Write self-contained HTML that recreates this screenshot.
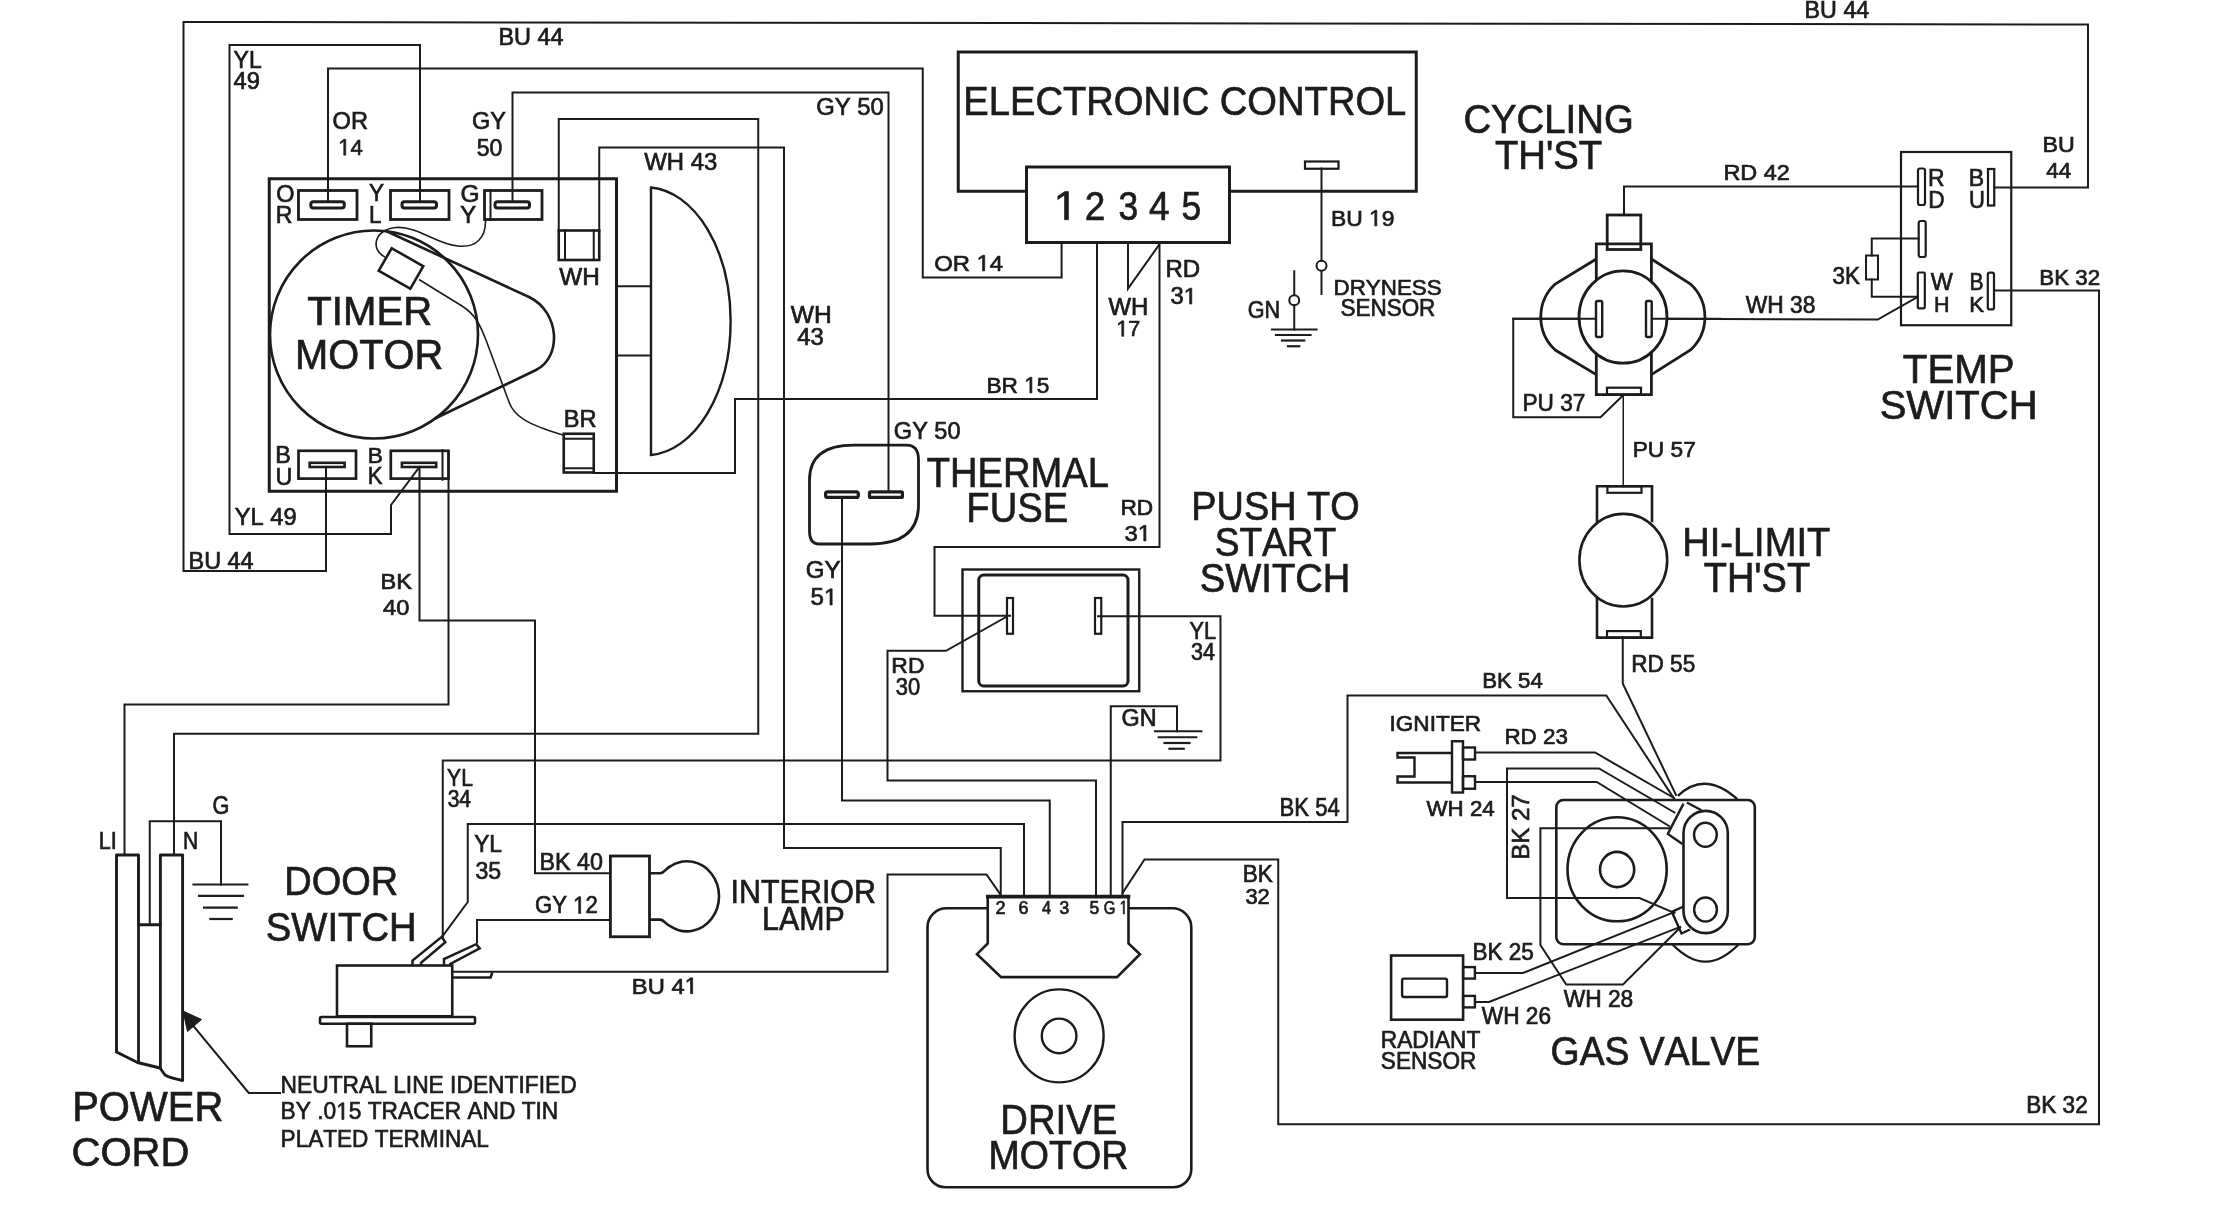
<!DOCTYPE html>
<html><head><meta charset="utf-8"><style>
html,body{margin:0;padding:0;background:#fff;}
svg{display:block;filter:grayscale(1);}
text{font-family:"Liberation Sans",sans-serif;fill:#1c1c1c;stroke:#1c1c1c;stroke-width:0.7px;font-kerning:none;}
.h{fill-opacity:0;stroke-opacity:0;}
.one{fill:#1c1c1c;stroke:#1c1c1c;}
</style></head><body>
<svg xmlns="http://www.w3.org/2000/svg" width="2236" height="1205" viewBox="0 0 2236 1205">
<rect x="0" y="0" width="2236" height="1205" fill="#fff"/>
<polyline points="326,468 326,571 183.5,571 183.5,22 2088,24.5 2088,187.5 1994.5,187.5" fill="none" stroke="#1c1c1c" stroke-width="2" stroke-linejoin="miter" stroke-linecap="square"/>
<polyline points="419.5,467 391,505 391,534 229.5,534 229.5,45 420,45 420,201.5" fill="none" stroke="#1c1c1c" stroke-width="2" stroke-linejoin="miter" stroke-linecap="square"/>
<polyline points="328,201.5 328,68.5 922.75,68.5 922.75,277.5 1061.6,277.5 1061.6,243" fill="none" stroke="#1c1c1c" stroke-width="2" stroke-linejoin="miter" stroke-linecap="square"/>
<polyline points="512.5,201.5 512.5,92.5 888.5,92.5 888.5,491" fill="none" stroke="#1c1c1c" stroke-width="2" stroke-linejoin="miter" stroke-linecap="square"/>
<polyline points="558.75,231 558.75,119 758.25,119 758.25,733.75 174,733.75 174,855" fill="none" stroke="#1c1c1c" stroke-width="2" stroke-linejoin="miter" stroke-linecap="square"/>
<polyline points="599.25,231 599.25,147.5 784,147.5 784,848 1000.75,848 1000.75,897" fill="none" stroke="#1c1c1c" stroke-width="2" stroke-linejoin="miter" stroke-linecap="square"/>
<polyline points="593.75,473 735,473 735,399 1097,399 1097,243" fill="none" stroke="#1c1c1c" stroke-width="2" stroke-linejoin="miter" stroke-linecap="square"/>
<polyline points="1128,243 1128,288.5 1159,245" fill="none" stroke="#1c1c1c" stroke-width="2" stroke-linejoin="miter" stroke-linecap="square"/>
<polyline points="1159.5,243 1159.5,547 934.5,547 934.5,615.75 1010,615.75" fill="none" stroke="#1c1c1c" stroke-width="2" stroke-linejoin="miter" stroke-linecap="square"/>
<polyline points="1098,616.25 1220.5,616.25 1220.5,760.5 442.75,760.5 442.75,938" fill="none" stroke="#1c1c1c" stroke-width="2" stroke-linejoin="miter" stroke-linecap="square"/>
<polyline points="1007,616.5 946,650.75 887.5,650.75 887.5,780.5 1096,780.5 1096,897" fill="none" stroke="#1c1c1c" stroke-width="2" stroke-linejoin="miter" stroke-linecap="square"/>
<polyline points="842,499 842,800.5 1049.75,800.5 1049.75,897" fill="none" stroke="#1c1c1c" stroke-width="2" stroke-linejoin="miter" stroke-linecap="square"/>
<polyline points="443,935.5 467.75,902 467.75,824 1024,824 1024,897" fill="none" stroke="#1c1c1c" stroke-width="2" stroke-linejoin="miter" stroke-linecap="square"/>
<polyline points="419.5,469 419.5,620.5 535,620.5 535,873.3 610,873.3" fill="none" stroke="#1c1c1c" stroke-width="2" stroke-linejoin="miter" stroke-linecap="square"/>
<polyline points="448.5,452 448.5,704.5 124.5,704.5 124.5,855" fill="none" stroke="#1c1c1c" stroke-width="2" stroke-linejoin="miter" stroke-linecap="square"/>
<polyline points="149.75,924.6 149.75,821.25 221,821.25 221,884.5" fill="none" stroke="#1c1c1c" stroke-width="2" stroke-linejoin="miter" stroke-linecap="square"/>
<polyline points="477,942.5 477,920 610,920" fill="none" stroke="#1c1c1c" stroke-width="2" stroke-linejoin="miter" stroke-linecap="square"/>
<polyline points="452,971.75 887.5,971.75 887.5,874.5 986.5,874.5 1000.5,894.5" fill="none" stroke="#1c1c1c" stroke-width="2" stroke-linejoin="miter" stroke-linecap="square"/>
<polyline points="1110.75,897 1110.75,706.25 1177,706.25 1177,731.25" fill="none" stroke="#1c1c1c" stroke-width="2" stroke-linejoin="miter" stroke-linecap="square"/>
<polyline points="1122.5,897 1122.5,822 1347.5,822 1347.5,695.5 1606.3,695.5 1675,800" fill="none" stroke="#1c1c1c" stroke-width="2" stroke-linejoin="miter" stroke-linecap="square"/>
<polyline points="1122.5,893 1144.5,859.5 1278.25,859.5 1278.25,1124.25 2099,1124.25 2099,290.5 1994,290.5" fill="none" stroke="#1c1c1c" stroke-width="2" stroke-linejoin="miter" stroke-linecap="square"/>
<polyline points="1596,318.75 1513.25,318.75 1513.25,417.25 1600.5,417.25 1623,395.5" fill="none" stroke="#1c1c1c" stroke-width="2" stroke-linejoin="miter" stroke-linecap="square"/>
<polyline points="1652,318.75 1877.75,319.5 1916.5,297.5" fill="none" stroke="#1c1c1c" stroke-width="2" stroke-linejoin="miter" stroke-linecap="square"/>
<polyline points="1624,215 1624,186.5 1918,186.5" fill="none" stroke="#1c1c1c" stroke-width="2" stroke-linejoin="miter" stroke-linecap="square"/>
<polyline points="1623.25,395 1623.25,486.5" fill="none" stroke="#1c1c1c" stroke-width="1.5" stroke-linejoin="miter" stroke-linecap="square"/>
<polyline points="1622.75,637.6 1622.75,683.5 1676,795" fill="none" stroke="#1c1c1c" stroke-width="2" stroke-linejoin="miter" stroke-linecap="square"/>
<polyline points="1321.5,168.5 1321.5,260.5" fill="none" stroke="#1c1c1c" stroke-width="2" stroke-linejoin="miter" stroke-linecap="square"/>
<circle cx="1321.5" cy="265.75" r="5" fill="none" stroke="#1c1c1c" stroke-width="2"/>
<polyline points="1321.5,271 1321.5,294" fill="none" stroke="#1c1c1c" stroke-width="2" stroke-linejoin="miter" stroke-linecap="square"/>
<polyline points="1294.25,271.25 1294.25,295" fill="none" stroke="#1c1c1c" stroke-width="2" stroke-linejoin="miter" stroke-linecap="square"/>
<circle cx="1294.25" cy="300.25" r="5" fill="none" stroke="#1c1c1c" stroke-width="2"/>
<polyline points="1294.25,305.5 1294.25,329.5" fill="none" stroke="#1c1c1c" stroke-width="2" stroke-linejoin="miter" stroke-linecap="square"/>
<polyline points="1918.5,238.5 1871.75,238.5 1871.75,255.5" fill="none" stroke="#1c1c1c" stroke-width="2" stroke-linejoin="miter" stroke-linecap="square"/>
<polyline points="1871.75,279.5 1871.75,296.75 1918,296.75" fill="none" stroke="#1c1c1c" stroke-width="2" stroke-linejoin="miter" stroke-linecap="square"/>
<rect x="1866" y="255.5" width="12.00" height="24.00" rx="0" fill="none" stroke="#1c1c1c" stroke-width="2"/>
<polyline points="1272,329.5 1316.5,329.5" fill="none" stroke="#1c1c1c" stroke-width="2.2" stroke-linejoin="miter" stroke-linecap="square"/>
<polyline points="1276,335 1310.5,335" fill="none" stroke="#1c1c1c" stroke-width="2.2" stroke-linejoin="miter" stroke-linecap="square"/>
<polyline points="1282,340.5 1304.25,340.5" fill="none" stroke="#1c1c1c" stroke-width="2.2" stroke-linejoin="miter" stroke-linecap="square"/>
<polyline points="1288,346.25 1299.25,346.25" fill="none" stroke="#1c1c1c" stroke-width="2.2" stroke-linejoin="miter" stroke-linecap="square"/>
<polyline points="1155,731.25 1201.25,731.25" fill="none" stroke="#1c1c1c" stroke-width="2.2" stroke-linejoin="miter" stroke-linecap="square"/>
<polyline points="1158.75,737.25 1196.25,737.25" fill="none" stroke="#1c1c1c" stroke-width="2.2" stroke-linejoin="miter" stroke-linecap="square"/>
<polyline points="1164.5,743 1189.5,743" fill="none" stroke="#1c1c1c" stroke-width="2.2" stroke-linejoin="miter" stroke-linecap="square"/>
<polyline points="1169.5,748.75 1183.75,748.75" fill="none" stroke="#1c1c1c" stroke-width="2.2" stroke-linejoin="miter" stroke-linecap="square"/>
<polyline points="193.5,884.5 247.3,884.5" fill="none" stroke="#1c1c1c" stroke-width="2.2" stroke-linejoin="miter" stroke-linecap="square"/>
<polyline points="199.1,895.8 243,895.8" fill="none" stroke="#1c1c1c" stroke-width="2.2" stroke-linejoin="miter" stroke-linecap="square"/>
<polyline points="204.1,907.7 236.7,907.7" fill="none" stroke="#1c1c1c" stroke-width="2.2" stroke-linejoin="miter" stroke-linecap="square"/>
<polyline points="210.4,919 231.7,919" fill="none" stroke="#1c1c1c" stroke-width="2.2" stroke-linejoin="miter" stroke-linecap="square"/>
<rect x="269.25" y="178.75" width="347.25" height="312.50" rx="0" fill="none" stroke="#1c1c1c" stroke-width="3"/>
<rect x="298.5" y="190.5" width="58.50" height="29.00" rx="0" fill="none" stroke="#1c1c1c" stroke-width="2.8"/>
<rect x="310.8" y="201.7" width="33.50" height="6.30" rx="2.5" fill="none" stroke="#1c1c1c" stroke-width="3"/>
<rect x="390.5" y="190.5" width="58.50" height="29.00" rx="0" fill="none" stroke="#1c1c1c" stroke-width="2.8"/>
<rect x="402" y="201.7" width="34.50" height="6.30" rx="2.5" fill="none" stroke="#1c1c1c" stroke-width="3"/>
<rect x="484.5" y="190.5" width="57.50" height="29.00" rx="0" fill="none" stroke="#1c1c1c" stroke-width="2.8"/>
<rect x="495" y="201.7" width="34.50" height="6.30" rx="2.5" fill="none" stroke="#1c1c1c" stroke-width="3"/>
<polyline points="490.5,190.5 490.5,220" fill="none" stroke="#1c1c1c" stroke-width="2" stroke-linejoin="miter" stroke-linecap="square"/>
<rect x="298.5" y="450.8" width="57.50" height="27.80" rx="0" fill="none" stroke="#1c1c1c" stroke-width="2.7"/>
<rect x="309.7" y="462.8" width="34.90" height="4.20" rx="0" fill="none" stroke="#1c1c1c" stroke-width="2.6"/>
<rect x="390.8" y="450.8" width="57.70" height="27.80" rx="0" fill="none" stroke="#1c1c1c" stroke-width="2.7"/>
<rect x="401.9" y="462.8" width="34.30" height="4.20" rx="0" fill="none" stroke="#1c1c1c" stroke-width="2.6"/>
<polyline points="442.5,450 442.5,479.75" fill="none" stroke="#1c1c1c" stroke-width="2" stroke-linejoin="miter" stroke-linecap="square"/>
<circle cx="374" cy="334.5" r="104" fill="none" stroke="#1c1c1c" stroke-width="2.6"/>
<path d="M 386 231 L 529 297 C 560 312 562 357 536 370 L 435 418.5" fill="none" stroke="#1c1c1c" stroke-width="2.6" />
<rect x="-18.2" y="-13" width="36.4" height="26" fill="none" stroke="#1c1c1c" stroke-width="2.6" transform="translate(401,268.5) rotate(29.8)"/>
<path d="M 485.5 220 C 486 238 476 248 458 246 C 436 244 418 226 396 227.5 C 374 229 370 250 385 257" fill="none" stroke="#1c1c1c" stroke-width="1.6" />
<path d="M 419 279.5 L 462 306 C 476 315 480 325 486 340 L 509 402 C 514 416 526 424 563 435" fill="none" stroke="#1c1c1c" stroke-width="1.6" />
<rect x="558.75" y="230.5" width="40.50" height="29.50" rx="0" fill="none" stroke="#1c1c1c" stroke-width="2.6"/>
<polyline points="565,230.5 565,260" fill="none" stroke="#1c1c1c" stroke-width="2" stroke-linejoin="miter" stroke-linecap="square"/>
<polyline points="593.75,230.5 593.75,260" fill="none" stroke="#1c1c1c" stroke-width="2" stroke-linejoin="miter" stroke-linecap="square"/>
<rect x="563.75" y="433.75" width="30.00" height="38.75" rx="0" fill="none" stroke="#1c1c1c" stroke-width="2.6"/>
<polyline points="563.75,438.75 593.75,438.75" fill="none" stroke="#1c1c1c" stroke-width="2" stroke-linejoin="miter" stroke-linecap="square"/>
<polyline points="563.75,468.25 593.75,468.25" fill="none" stroke="#1c1c1c" stroke-width="2" stroke-linejoin="miter" stroke-linecap="square"/>
<path d="M 651 187.5 A 84.8 134 0 0 1 651 455 Z" fill="none" stroke="#1c1c1c" stroke-width="2.4" />
<polyline points="616.5,286.25 651,286.25" fill="none" stroke="#1c1c1c" stroke-width="2" stroke-linejoin="miter" stroke-linecap="square"/>
<polyline points="616.5,355.5 651,355.5" fill="none" stroke="#1c1c1c" stroke-width="2" stroke-linejoin="miter" stroke-linecap="square"/>
<rect x="958.25" y="52" width="458.00" height="139.25" rx="0" fill="none" stroke="#1c1c1c" stroke-width="3"/>
<rect x="1026.5" y="167" width="203.00" height="75.50" rx="0" fill="#fff" stroke="#1c1c1c" stroke-width="3"/>
<rect x="1305" y="161.5" width="33.50" height="7.25" rx="0" fill="none" stroke="#1c1c1c" stroke-width="2.2"/>
<rect x="1607.2" y="215" width="33.60" height="34.50" rx="0" fill="none" stroke="#1c1c1c" stroke-width="2.8"/>
<path d="M 1596.3 259 L 1555.2 284 A 45 45 0 0 0 1555.2 350 L 1596.3 374.6" fill="none" stroke="#1c1c1c" stroke-width="2.8" />
<path d="M 1651.4 259 L 1690.5 284 A 45 45 0 0 1 1690.5 350 L 1651.4 374.6" fill="none" stroke="#1c1c1c" stroke-width="2.8" />
<polyline points="1596.3,298 1596.3,243.9 1651.4,243.9 1651.4,298" fill="none" stroke="#1c1c1c" stroke-width="2.8" stroke-linejoin="miter" stroke-linecap="square"/>
<polyline points="1596.3,340 1596.3,394.6 1651.4,394.6 1651.4,340" fill="none" stroke="#1c1c1c" stroke-width="2.8" stroke-linejoin="miter" stroke-linecap="square"/>
<ellipse cx="1623" cy="317" rx="44" ry="46.2" fill="#fff" stroke="#1c1c1c" stroke-width="2.8"/>
<rect x="1596" y="301" width="6.20" height="36.00" rx="1.5" fill="none" stroke="#1c1c1c" stroke-width="2.4"/>
<rect x="1646" y="301" width="5.70" height="36.00" rx="1.5" fill="none" stroke="#1c1c1c" stroke-width="2.4"/>
<rect x="1607" y="387.7" width="34.00" height="6.90" rx="0" fill="none" stroke="#1c1c1c" stroke-width="2.2"/>
<polyline points="1513.25,318.75 1596,318.75" fill="none" stroke="#1c1c1c" stroke-width="2" stroke-linejoin="miter" stroke-linecap="square"/>
<polyline points="1652,318.75 1720,318.75" fill="none" stroke="#1c1c1c" stroke-width="2" stroke-linejoin="miter" stroke-linecap="square"/>
<rect x="1901" y="152" width="110.25" height="173.25" rx="0" fill="none" stroke="#1c1c1c" stroke-width="2.2"/>
<rect x="1918" y="168.5" width="7.00" height="36.50" rx="2" fill="none" stroke="#1c1c1c" stroke-width="2.2"/>
<rect x="1988" y="169" width="6.25" height="36.50" rx="0" fill="none" stroke="#1c1c1c" stroke-width="2.2"/>
<rect x="1918.7" y="221" width="7.00" height="36.00" rx="2" fill="none" stroke="#1c1c1c" stroke-width="2.2"/>
<rect x="1917.8" y="272.5" width="7.00" height="35.80" rx="1" fill="none" stroke="#1c1c1c" stroke-width="2.2"/>
<rect x="1987.8" y="272.7" width="6.20" height="36.70" rx="2" fill="none" stroke="#1c1c1c" stroke-width="2.2"/>
<polyline points="1597,521 1597,486.3 1652,486.3 1652,521" fill="none" stroke="#1c1c1c" stroke-width="2.6" stroke-linejoin="miter" stroke-linecap="square"/>
<polyline points="1597,599 1597,637.6 1652,637.6 1652,599" fill="none" stroke="#1c1c1c" stroke-width="2.6" stroke-linejoin="miter" stroke-linecap="square"/>
<ellipse cx="1623.3" cy="560.2" rx="43.9" ry="46.3" fill="none" stroke="#1c1c1c" stroke-width="2.6"/>
<rect x="1607.4" y="486.3" width="34.10" height="6.50" rx="0" fill="none" stroke="#1c1c1c" stroke-width="2.2"/>
<rect x="1607" y="631.1" width="33.80" height="6.50" rx="0" fill="none" stroke="#1c1c1c" stroke-width="2.2"/>
<path d="M 854 445.2 L 906.6 445.2 Q 918.5 445.2 918.5 460 L 918.5 505 Q 918.5 544 870.3 544 L 819 544 Q 809.5 544 809.5 531 L 809.5 480 Q 809.5 445.2 854 445.2 Z" fill="none" stroke="#1c1c1c" stroke-width="2.8" />
<rect x="825.6" y="491.8" width="32.70" height="5.60" rx="2" fill="none" stroke="#1c1c1c" stroke-width="3.2"/>
<rect x="869.5" y="491.8" width="32.90" height="5.60" rx="1" fill="none" stroke="#1c1c1c" stroke-width="3.2"/>
<rect x="962.5" y="569.5" width="176.75" height="121.75" rx="0" fill="none" stroke="#1c1c1c" stroke-width="2.4"/>
<rect x="978.75" y="575" width="149.25" height="111.00" rx="5" fill="none" stroke="#1c1c1c" stroke-width="3"/>
<rect x="1007" y="598" width="6.00" height="35.75" rx="0" fill="none" stroke="#1c1c1c" stroke-width="2.2"/>
<rect x="1095" y="598" width="6.25" height="35.75" rx="0" fill="none" stroke="#1c1c1c" stroke-width="2.2"/>
<path d="M 116.5 855 L 138.5 855 L 138.5 924.8 L 160.4 924.8 L 160.4 855 L 182.6 855 L 182.6 1080.5 Q 170 1078 165 1075 L 160 1068 L 137.5 1062.5 L 122.5 1055 L 116.5 1052 Z" fill="none" stroke="#1c1c1c" stroke-width="2.9" stroke-linejoin="round"/>
<polyline points="138.5,924.8 138.5,1062.5" fill="none" stroke="#1c1c1c" stroke-width="2.8" stroke-linejoin="miter" stroke-linecap="square"/>
<polyline points="160.4,924.8 160.4,1068" fill="none" stroke="#1c1c1c" stroke-width="2.8" stroke-linejoin="miter" stroke-linecap="square"/>
<path d="M 183 1011 L 201.5 1019.5 L 187.5 1031.5 Z" fill="#1c1c1c" stroke="#1c1c1c" stroke-width="1" />
<polyline points="192.5,1025 248.75,1093 280,1093" fill="none" stroke="#1c1c1c" stroke-width="2" stroke-linejoin="miter" stroke-linecap="square"/>
<rect x="337" y="965.5" width="115.25" height="50.75" rx="0" fill="none" stroke="#1c1c1c" stroke-width="2.6"/>
<rect x="320" y="1017" width="155.00" height="6.75" rx="1.5" fill="none" stroke="#1c1c1c" stroke-width="2.6"/>
<rect x="347" y="1023.75" width="24.25" height="22.50" rx="0" fill="none" stroke="#1c1c1c" stroke-width="2.6"/>
<path d="M 412.5 965 L 412.5 960.5 L 441.8 936.8 L 445.3 942.2 L 421 962.8 L 421 965" fill="none" stroke="#1c1c1c" stroke-width="2.5" />
<path d="M 444 965 L 444 959 L 476.2 944.2 L 479.7 948.4 L 450.3 964 L 450.3 965.5" fill="none" stroke="#1c1c1c" stroke-width="2.5" />
<path d="M 452.3 977.5 L 490.6 977.5 L 492.3 972.5" fill="none" stroke="#1c1c1c" stroke-width="2.5" />
<rect x="610.4" y="856" width="39.10" height="80.75" rx="0" fill="none" stroke="#1c1c1c" stroke-width="2.8"/>
<path d="M 649.5 873.3 L 660.2 873.3 C 664 873.3 666 868 671 866 A 32 35 0 1 1 671 926.6 C 666 925 664 919.6 660.2 919.6 L 649.5 919.6" fill="none" stroke="#1c1c1c" stroke-width="2.6" />
<path d="M 988 908.3 L 946.5 908.3 A 19 19 0 0 0 927.5 927.3 L 927.5 1169.3 A 18 18 0 0 0 945.5 1187.3 L 1173.3 1187.3 A 18 18 0 0 0 1191.3 1169.3 L 1191.3 927.3 A 19 19 0 0 0 1172.3 908.3 L 1128.5 908.3" fill="none" stroke="#1c1c1c" stroke-width="2.6" />
<path d="M 987.75 943.4 L 987.75 896.6 L 1128.5 896.6 L 1128.5 943.4 L 1140 954.2 L 1117 977.1 L 1001.1 977.1 L 977 954.2 Z" fill="none" stroke="#1c1c1c" stroke-width="2.6" />
<polyline points="987.75,896.6 1128.5,896.6" fill="none" stroke="#1c1c1c" stroke-width="3.6" stroke-linejoin="miter" stroke-linecap="square"/>
<ellipse cx="1059.1" cy="1035.9" rx="44.5" ry="46.5" fill="none" stroke="#1c1c1c" stroke-width="2.4"/>
<circle cx="1059.1" cy="1035.9" r="17.3" fill="none" stroke="#1c1c1c" stroke-width="2.4"/>
<path d="M 1451.5 753 L 1397.5 753 L 1397.5 757.5 L 1414.5 757.5 L 1414.5 776.5 L 1397.5 776.5 L 1397.5 782.5 L 1451.5 782.5" fill="none" stroke="#1c1c1c" stroke-width="2.4" />
<rect x="1452" y="741.25" width="11.00" height="51.25" rx="0" fill="none" stroke="#1c1c1c" stroke-width="2.4"/>
<rect x="1463" y="747.5" width="12.00" height="12.00" rx="0" fill="none" stroke="#1c1c1c" stroke-width="2.4"/>
<rect x="1463" y="776.25" width="12.00" height="12.50" rx="0" fill="none" stroke="#1c1c1c" stroke-width="2.4"/>
<polyline points="1475,752.5 1595,752.5 1674,798" fill="none" stroke="#1c1c1c" stroke-width="2" stroke-linejoin="miter" stroke-linecap="square"/>
<polyline points="1475,782 1596.7,782 1669,826" fill="none" stroke="#1c1c1c" stroke-width="2" stroke-linejoin="miter" stroke-linecap="square"/>
<polyline points="1674.5,812.5 1599,768.5 1507,768.5 1507,898 1639.5,898 1674.4,913" fill="none" stroke="#1c1c1c" stroke-width="2" stroke-linejoin="miter" stroke-linecap="square"/>
<polyline points="1475,973 1523,973 1674.4,912" fill="none" stroke="#1c1c1c" stroke-width="2" stroke-linejoin="miter" stroke-linecap="square"/>
<polyline points="1475,1002 1489,1002 1680,927" fill="none" stroke="#1c1c1c" stroke-width="2" stroke-linejoin="miter" stroke-linecap="square"/>
<polyline points="1669,828.3 1540.4,828.3 1540.4,945 1566.2,984.5 1623,984.5 1680,927.7" fill="none" stroke="#1c1c1c" stroke-width="2" stroke-linejoin="miter" stroke-linecap="square"/>
<rect x="1556.3" y="800" width="198.50" height="144.20" rx="7" fill="none" stroke="#1c1c1c" stroke-width="2.6"/>
<path d="M 1672.5 944.5 Q 1690 962 1705.5 961.6 Q 1721 962 1738.6 944.5" fill="none" stroke="#1c1c1c" stroke-width="2.4" />
<ellipse cx="1617.1" cy="869.3" rx="49.6" ry="52" fill="none" stroke="#1c1c1c" stroke-width="2.6"/>
<ellipse cx="1617.1" cy="869.5" rx="17.1" ry="17.6" fill="none" stroke="#1c1c1c" stroke-width="2.6"/>
<path d="M 1677.9 795.8 Q 1704.8 770 1737.3 799.1" fill="none" stroke="#1c1c1c" stroke-width="2.4" />
<path d="M 1683.5 833 A 22.15 22.15 0 0 1 1727.8 833 L 1727.8 911 A 22.15 22.15 0 0 1 1683.5 911 Z" fill="#fff" stroke="#1c1c1c" stroke-width="2.6" />
<ellipse cx="1705.4" cy="834.8" rx="11.4" ry="12" fill="none" stroke="#1c1c1c" stroke-width="2.4"/>
<ellipse cx="1705.5" cy="909.5" rx="11.4" ry="12" fill="none" stroke="#1c1c1c" stroke-width="2.4"/>
<path d="M 1683.5 803.6 L 1667.8 833.9 L 1682.4 844" fill="none" stroke="#1c1c1c" stroke-width="2.4" />
<path d="M 1686.9 802.5 L 1701.4 810.3" fill="none" stroke="#1c1c1c" stroke-width="2.4" />
<path d="M 1683.5 906.5 L 1671.8 911.8 L 1681.5 933.5 L 1690 929.5" fill="none" stroke="#1c1c1c" stroke-width="2.4" />
<rect x="1391.1" y="955.5" width="72.00" height="64.20" rx="0" fill="none" stroke="#1c1c1c" stroke-width="2.6"/>
<rect x="1402.1" y="978.6" width="44.90" height="18.40" rx="2" fill="none" stroke="#1c1c1c" stroke-width="2.4"/>
<rect x="1463.1" y="967.1" width="11.80" height="11.50" rx="0" fill="none" stroke="#1c1c1c" stroke-width="2.4"/>
<rect x="1463.1" y="995.9" width="11.80" height="11.50" rx="0" fill="none" stroke="#1c1c1c" stroke-width="2.4"/>
<text transform="translate(1529.35,857.85) rotate(-90) translate(-1.97,0) scale(1.004,1)" font-size="23.98">BK 27</text>
<text transform="translate(498.43,45.05) scale(1.009,1)" font-size="23.26">BU 44</text>
<text transform="translate(233.60,68.40) scale(0.940,1)" font-size="24.42">YL</text>
<text transform="translate(233.61,89.25) scale(0.994,1)" font-size="23.84">49</text>
<text transform="translate(332.53,129.05) scale(1.003,1)" font-size="23.55">OR</text>
<text transform="translate(338.23,155.15) scale(0.962,1)" font-size="22.97"><tspan class="h">1</tspan>4</text>
<path class="one" transform="translate(338.23,155.15) scale(0.01079,-0.01121)" d="M515 0L515 1237L197 1010L197 1180L530 1409L696 1409L696 0Z" stroke-width="62.4"/>
<text transform="translate(471.97,129.45) scale(0.966,1)" font-size="24.27">GY</text>
<text transform="translate(476.63,156.25) scale(0.955,1)" font-size="24.13">50</text>
<text transform="translate(276.34,201.75) scale(0.971,1)" font-size="24.13">O</text>
<text transform="translate(275.86,223.15) scale(0.968,1)" font-size="23.84">R</text>
<text transform="translate(369.06,201.45) scale(0.954,1)" font-size="23.55">Y</text>
<text transform="translate(368.91,223.15) scale(0.942,1)" font-size="23.84">L</text>
<text transform="translate(460.52,201.75) scale(1.016,1)" font-size="24.13">G</text>
<text transform="translate(460.23,223.15) scale(0.997,1)" font-size="23.84">Y</text>
<text transform="translate(644.25,170.40) scale(1.008,1)" font-size="23.69">WH 43</text>
<text transform="translate(816.35,115.45) scale(0.964,1)" font-size="24.71">GY 50</text>
<text transform="translate(559.24,285.45) scale(1.001,1)" font-size="24.27">WH</text>
<text transform="translate(307.35,324.55) scale(0.983,1)" font-size="40.84">TIMER</text>
<text transform="translate(295.08,369.45) scale(0.945,1)" font-size="42.15">MOTOR</text>
<text transform="translate(563.71,427.25) scale(0.980,1)" font-size="24.13">BR</text>
<text transform="translate(275.34,462.95) scale(0.996,1)" font-size="23.40">B</text>
<text transform="translate(275.44,484.65) scale(0.965,1)" font-size="24.27">U</text>
<text transform="translate(367.79,462.75) scale(0.990,1)" font-size="22.97">B</text>
<text transform="translate(367.83,484.15) scale(0.940,1)" font-size="23.55">K</text>
<text transform="translate(234.73,525.15) scale(0.988,1)" font-size="23.98">YL 49</text>
<text transform="translate(188.53,568.65) scale(0.965,1)" font-size="24.27">BU 44</text>
<text transform="translate(380.41,589.15) scale(1.028,1)" font-size="22.97">BK</text>
<text transform="translate(383.06,615.15) scale(1.098,1)" font-size="21.51">40</text>
<text transform="translate(963.32,115.45) scale(0.928,1)" font-size="41.13">ELECTRONIC CONTROL</text>
<text transform="translate(1053.68,219.65) scale(1.062,1)" font-size="40.77"><tspan class="h">1</tspan></text>
<path class="one" transform="translate(1053.68,219.65) scale(0.02114,-0.01991)" d="M515 0L515 1237L197 1010L197 1180L530 1409L696 1409L696 0Z" stroke-width="35.2"/>
<text transform="translate(1084.75,219.65) scale(0.905,1)" font-size="40.77">2</text>
<text transform="translate(1118.50,219.65) scale(0.869,1)" font-size="40.77">3</text>
<text transform="translate(1149.01,219.65) scale(0.903,1)" font-size="40.77">4</text>
<text transform="translate(1181.43,219.65) scale(0.869,1)" font-size="40.77">5</text>
<text transform="translate(934.22,270.90) scale(1.054,1)" font-size="22.60">OR <tspan class="h">1</tspan>4</text>
<path class="one" transform="translate(976.59,270.90) scale(0.01164,-0.01104)" d="M515 0L515 1237L197 1010L197 1180L530 1409L696 1409L696 0Z" stroke-width="63.4"/>
<text transform="translate(1330.98,225.90) scale(1.011,1)" font-size="22.60">BU <tspan class="h">1</tspan>9</text>
<path class="one" transform="translate(1369.07,225.90) scale(0.01116,-0.01104)" d="M515 0L515 1237L197 1010L197 1180L530 1409L696 1409L696 0Z" stroke-width="63.4"/>
<text transform="translate(1165.38,277.15) scale(1.040,1)" font-size="23.11">RD</text>
<text transform="translate(1170.44,304.05) scale(1.029,1)" font-size="23.11">3<tspan class="h">1</tspan></text>
<path class="one" transform="translate(1183.67,304.05) scale(0.01161,-0.01128)" d="M515 0L515 1237L197 1010L197 1180L530 1409L696 1409L696 0Z" stroke-width="62.0"/>
<text transform="translate(1108.54,314.85) scale(1.035,1)" font-size="23.11">WH</text>
<text transform="translate(1116.38,336.35) scale(0.956,1)" font-size="22.53"><tspan class="h">1</tspan>7</text>
<path class="one" transform="translate(1116.38,336.35) scale(0.01052,-0.01100)" d="M515 0L515 1237L197 1010L197 1180L530 1409L696 1409L696 0Z" stroke-width="63.6"/>
<text transform="translate(1333.51,294.65) scale(1.006,1)" font-size="22.24">DRYNESS</text>
<text transform="translate(1340.43,316.15) scale(0.967,1)" font-size="23.26">SENSOR</text>
<text transform="translate(1247.76,317.95) scale(0.913,1)" font-size="23.69">GN</text>
<text transform="translate(1463.40,133.40) scale(0.940,1)" font-size="40.77">CYCLING</text>
<text transform="translate(1494.89,169.45) scale(0.947,1)" font-size="40.41">TH'ST</text>
<text transform="translate(1723.43,180.15) scale(1.020,1)" font-size="22.97">RD 42</text>
<text transform="translate(2042.45,152.15) scale(1.027,1)" font-size="22.60">BU</text>
<text transform="translate(2046.33,178.40) scale(0.993,1)" font-size="22.60">44</text>
<text transform="translate(1804.54,18.25) scale(0.984,1)" font-size="23.69">BU 44</text>
<text transform="translate(1927.97,186.25) scale(0.949,1)" font-size="24.13">R</text>
<text transform="translate(1928.19,207.95) scale(0.979,1)" font-size="23.11">D</text>
<text transform="translate(1968.75,186.25) scale(0.958,1)" font-size="24.13">B</text>
<text transform="translate(1968.95,207.95) scale(0.923,1)" font-size="23.84">U</text>
<text transform="translate(1930.75,289.95) scale(0.994,1)" font-size="23.55">W</text>
<text transform="translate(1934.09,311.85) scale(0.954,1)" font-size="22.53">H</text>
<text transform="translate(1969.42,289.95) scale(0.894,1)" font-size="23.55">B</text>
<text transform="translate(1969.33,311.85) scale(0.983,1)" font-size="22.53">K</text>
<text transform="translate(1832.59,284.15) scale(0.955,1)" font-size="23.55">3K</text>
<text transform="translate(1745.65,313.25) scale(0.945,1)" font-size="24.13">WH 38</text>
<text transform="translate(2039.26,284.65) scale(0.991,1)" font-size="22.60">BK 32</text>
<text transform="translate(1902.85,382.95) scale(0.979,1)" font-size="41.13">TEMP</text>
<text transform="translate(1879.63,418.55) scale(0.981,1)" font-size="40.84">SWITCH</text>
<text transform="translate(1522.39,411.15) scale(0.928,1)" font-size="24.42">PU 37</text>
<text transform="translate(1632.74,457.15) scale(1.004,1)" font-size="22.60">PU 57</text>
<text transform="translate(790.74,323.40) scale(1.006,1)" font-size="24.42">WH</text>
<text transform="translate(797.30,344.85) scale(0.997,1)" font-size="23.98">43</text>
<text transform="translate(986.49,392.90) scale(1.001,1)" font-size="22.60">BR <tspan class="h">1</tspan>5</text>
<path class="one" transform="translate(1024.19,392.90) scale(0.01104,-0.01104)" d="M515 0L515 1237L197 1010L197 1180L530 1409L696 1409L696 0Z" stroke-width="63.4"/>
<text transform="translate(893.87,439.25) scale(0.998,1)" font-size="23.55">GY 50</text>
<text transform="translate(926.69,486.55) scale(0.905,1)" font-size="42.15">THERMAL</text>
<text transform="translate(966.32,522.25) scale(0.913,1)" font-size="41.86">FUSE</text>
<text transform="translate(1120.49,514.65) scale(1.054,1)" font-size="21.51">RD</text>
<text transform="translate(1124.44,540.90) scale(1.060,1)" font-size="22.60">3<tspan class="h">1</tspan></text>
<path class="one" transform="translate(1137.76,540.90) scale(0.01170,-0.01104)" d="M515 0L515 1237L197 1010L197 1180L530 1409L696 1409L696 0Z" stroke-width="63.4"/>
<text transform="translate(1191.34,520.45) scale(0.934,1)" font-size="40.55">PUSH TO</text>
<text transform="translate(1214.66,556.45) scale(0.912,1)" font-size="40.70">START</text>
<text transform="translate(1199.82,592.25) scale(0.942,1)" font-size="40.55">SWITCH</text>
<text transform="translate(1682.23,556.45) scale(0.932,1)" font-size="40.84">HI-LIMIT</text>
<text transform="translate(1703.70,592.35) scale(0.908,1)" font-size="41.86">TH'ST</text>
<text transform="translate(805.74,578.45) scale(1.003,1)" font-size="23.98">GY</text>
<text transform="translate(810.48,604.95) scale(1.033,1)" font-size="23.40">5<tspan class="h">1</tspan></text>
<path class="one" transform="translate(823.93,604.95) scale(0.01181,-0.01143)" d="M515 0L515 1237L197 1010L197 1180L530 1409L696 1409L696 0Z" stroke-width="61.3"/>
<text transform="translate(891.37,673.15) scale(1.016,1)" font-size="22.53">RD</text>
<text transform="translate(895.81,694.65) scale(0.949,1)" font-size="23.11">30</text>
<text transform="translate(1189.57,639.45) scale(0.882,1)" font-size="24.56">YL</text>
<text transform="translate(1191.03,660.45) scale(0.909,1)" font-size="23.69">34</text>
<text transform="translate(1121.47,725.65) scale(0.969,1)" font-size="24.13">GN</text>
<text transform="translate(1631.19,671.75) scale(0.921,1)" font-size="24.56">RD 55</text>
<text transform="translate(1482.28,688.40) scale(0.983,1)" font-size="22.60">BK 54</text>
<text transform="translate(1389.51,730.90) scale(1.000,1)" font-size="22.60">IGNITER</text>
<text transform="translate(1504.41,743.75) scale(0.977,1)" font-size="22.97">RD 23</text>
<text transform="translate(1426.50,815.90) scale(0.989,1)" font-size="22.60">WH 24</text>
<text transform="translate(1279.54,815.95) scale(0.890,1)" font-size="24.85">BK 54</text>
<text transform="translate(1242.81,882.45) scale(0.938,1)" font-size="23.98">BK</text>
<text transform="translate(1245.41,903.75) scale(0.969,1)" font-size="22.67">32</text>
<text transform="translate(1472.40,959.55) scale(0.975,1)" font-size="23.11">BK 25</text>
<text transform="translate(1481.85,1024.15) scale(0.980,1)" font-size="23.11">WH 26</text>
<text transform="translate(1563.65,1007.15) scale(0.974,1)" font-size="23.40">WH 28</text>
<text transform="translate(1380.79,1047.85) scale(0.982,1)" font-size="23.11">RADIANT</text>
<text transform="translate(1380.82,1069.15) scale(0.979,1)" font-size="23.11">SENSOR</text>
<text transform="translate(1550.57,1065.25) scale(0.902,1)" font-size="41.42">GAS VALVE</text>
<text transform="translate(2026.25,1112.65) scale(0.968,1)" font-size="23.33">BK 32</text>
<text transform="translate(1000.31,1134.45) scale(0.904,1)" font-size="42.30">DRIVE</text>
<text transform="translate(988.47,1169.45) scale(0.930,1)" font-size="40.41">MOTOR</text>
<text transform="translate(995.43,913.95) scale(0.957,1)" font-size="19.04">2</text>
<text transform="translate(1018.44,913.95) scale(0.945,1)" font-size="19.04">6</text>
<text transform="translate(1042.07,913.95) scale(0.865,1)" font-size="19.04">4</text>
<text transform="translate(1059.58,913.95) scale(0.919,1)" font-size="19.04">3</text>
<text transform="translate(1089.55,913.95) scale(0.919,1)" font-size="19.04">5</text>
<text transform="translate(1103.80,913.95) scale(0.788,1)" font-size="19.04">G</text>
<text transform="translate(1119.71,913.95) scale(0.733,1)" font-size="19.04"><tspan class="h">1</tspan></text>
<path class="one" transform="translate(1119.71,913.95) scale(0.00681,-0.00930)" d="M515 0L515 1237L197 1010L197 1180L530 1409L696 1409L696 0Z" stroke-width="75.3"/>
<text transform="translate(730.54,902.55) scale(0.911,1)" font-size="33.43">INTERIOR</text>
<text transform="translate(762.06,930.45) scale(0.912,1)" font-size="33.28">LAMP</text>
<text transform="translate(447.09,785.85) scale(0.889,1)" font-size="23.69">YL</text>
<text transform="translate(447.65,806.85) scale(0.911,1)" font-size="23.11">34</text>
<text transform="translate(474.15,852.05) scale(0.961,1)" font-size="23.69">YL</text>
<text transform="translate(475.47,878.95) scale(0.977,1)" font-size="23.69">35</text>
<text transform="translate(539.44,870.45) scale(0.972,1)" font-size="23.98">BK 40</text>
<text transform="translate(534.94,913.45) scale(0.908,1)" font-size="24.42">GY <tspan class="h">1</tspan>2</text>
<path class="one" transform="translate(573.11,913.45) scale(0.01082,-0.01192)" d="M515 0L515 1237L197 1010L197 1180L530 1409L696 1409L696 0Z" stroke-width="58.7"/>
<text transform="translate(631.80,993.65) scale(1.034,1)" font-size="22.97">BU 4<tspan class="h">1</tspan></text>
<path class="one" transform="translate(684.58,993.65) scale(0.01159,-0.01121)" d="M515 0L515 1237L197 1010L197 1180L530 1409L696 1409L696 0Z" stroke-width="62.4"/>
<text transform="translate(212.46,814.15) scale(0.860,1)" font-size="25.29">G</text>
<text transform="translate(98.68,849.25) scale(0.882,1)" font-size="24.42">LI</text>
<text transform="translate(182.92,849.25) scale(0.865,1)" font-size="24.42">N</text>
<text transform="translate(284.33,895.45) scale(0.937,1)" font-size="40.55">DOOR</text>
<text transform="translate(265.81,940.55) scale(0.943,1)" font-size="40.55">SWITCH</text>
<text transform="translate(72.17,1121.35) scale(0.959,1)" font-size="41.72">POWER</text>
<text transform="translate(71.52,1166.45) scale(0.988,1)" font-size="40.55">CORD</text>
<text transform="translate(280.58,1092.55) scale(0.922,1)" font-size="24.71">NEUTRAL LINE IDENTIFIED</text>
<text transform="translate(280.59,1119.45) scale(0.936,1)" font-size="24.27">BY .0<tspan class="h">1</tspan>5 TRACER AND TIN</text>
<path class="one" transform="translate(336.17,1119.45) scale(0.01110,-0.01185)" d="M515 0L515 1237L197 1010L197 1180L530 1409L696 1409L696 0Z" stroke-width="59.1"/>
<text transform="translate(280.60,1146.55) scale(0.920,1)" font-size="24.56">PLATED TERMINAL</text>
</svg></body></html>
